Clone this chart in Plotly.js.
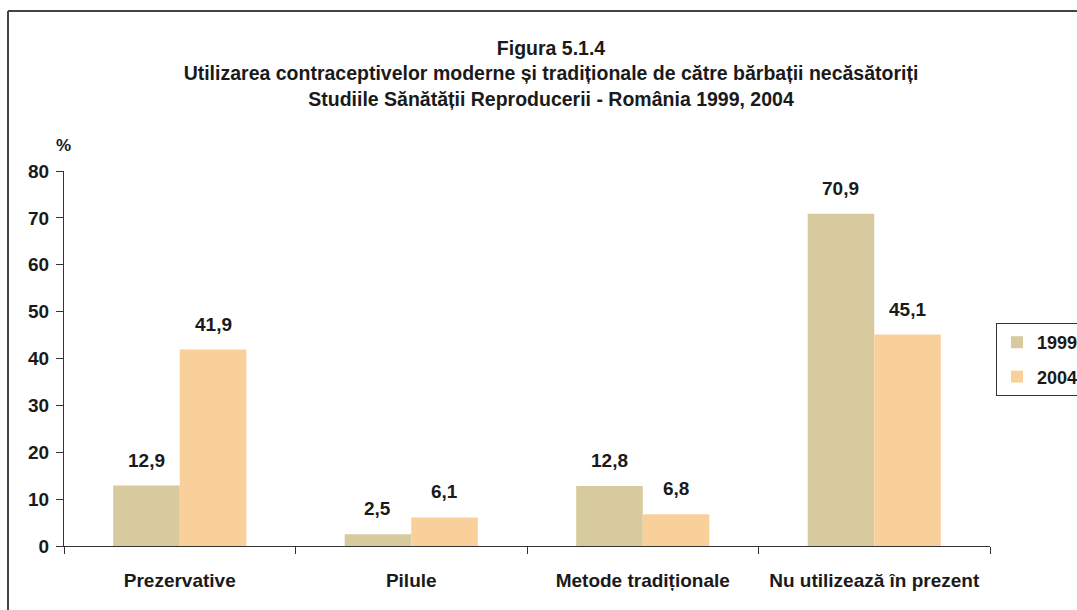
<!DOCTYPE html>
<html>
<head>
<meta charset="utf-8">
<script src="https://cdn.plot.ly/plotly-3.0.1.min.js"></script>
<style>html,body{margin:0;padding:0;background:#fff;}#chart{width:1077px;height:610px;}</style>
</head>
<body>
<div id="chart"></div>
<script>
const categories = ["Prezervative", "Pilule", "Metode tradiționale", "Nu utilizează în prezent"];
const values1999 = [12.9, 2.5, 12.8, 70.9];
const values2004 = [41.9, 6.1, 6.8, 45.1];
const seriesNames = ["1999", "2004"];
const yTicks = [0, 10, 20, 30, 40, 50, 60, 70, 80];

const FONT = "'Liberation Sans Narrow', 'Arial Narrow', 'Liberation Sans', sans-serif";
const textFont = {family: FONT, size: 19, color: "#1a1a1a", weight: "bold"};

const traces = [
  {type: "bar", name: seriesNames[0], x: categories, y: values1999, legendgroup: "a",
   marker: {color: "rgb(214,202,158)"}, hoverinfo: "none"},
  {type: "bar", name: seriesNames[1], x: categories, y: values2004, legendgroup: "b",
   marker: {color: "rgb(250,208,154)"}, hoverinfo: "none"}
];

const PLOT_W = 926;
const barPx = PLOT_W / categories.length * (1 - 0.425) / 2;
const fmt = v => v.toFixed(1).replace(".", ",");
const labelAnns = [];
[values1999, values2004].forEach((vals, s) => {
  vals.forEach((v, i) => {
    labelAnns.push({
      x: categories[i], y: v, xref: "x", yref: "y", text: fmt(v), showarrow: false,
      xanchor: "center", yanchor: "bottom", xshift: (s === 0 ? -1 : 1) * barPx / 2, yshift: 13,
      font: textFont
    });
  });
});

const layout = {
  width: 1077, height: 610,
  margin: {l: 64, r: 87, t: 171, b: 64, pad: 0},
  paper_bgcolor: "#fff", plot_bgcolor: "#fff",
  separators: ",.",
  font: {family: FONT, size: 19, color: "#1a1a1a", weight: "bold"},
  barmode: "group", bargap: 0.425, bargroupgap: 0,
  showlegend: true,
  title: {
    text: "Figura 5.1.4<br>Utilizarea contraceptivelor moderne și tradiționale de către bărbații necăsătoriți<br>Studiile Sănătății Reproducerii - România 1999, 2004",
    font: {family: FONT, size: 19.5, color: "#1a1a1a", weight: "bold"},
    x: 551/1077, xref: "container", xanchor: "center",
    y: 1 - 55/610, yref: "container", yanchor: "top"
  },
  xaxis: {
    type: "category", tickson: "boundaries", ticks: "outside", ticklen: 7, tickcolor: "#333",
    showline: true, linecolor: "#333", linewidth: 1, showgrid: false, zeroline: false,
    tickfont: {family: FONT, size: 19, color: "#1a1a1a", weight: "bold"},
    ticklabelstandoff: 17, fixedrange: true
  },
  yaxis: {
    range: [0, 80], tickvals: yTicks, ticks: "outside", ticklen: 7, tickcolor: "#333",
    showline: true, linecolor: "#333", linewidth: 1, showgrid: false, zeroline: false,
    tickfont: {family: FONT, size: 19, color: "#1a1a1a", weight: "bold"},
    ticklabelstandoff: 3, fixedrange: true
  },
  legend: {
    xref: "container", yref: "container",
    x: 996/1077, xanchor: "left", y: 1 - 323/610, yanchor: "top",
    bordercolor: "#333", borderwidth: 1, bgcolor: "#fff",
    font: {family: FONT, size: 18, color: "#1a1a1a", weight: "bold"},
    traceorder: "grouped", tracegroupgap: 8
  },
  annotations: labelAnns.concat([
    {text: "%", xref: "paper", yref: "paper", x: -0.0005, y: (546-145)/375, xanchor: "center", yanchor: "middle",
     showarrow: false, font: {family: FONT, size: 17, color: "#1a1a1a", weight: "bold"}}
  ]),
  shapes: [
    {type: "line", xref: "paper", yref: "paper",
     x0: (8-64)/926, x1: (8-64)/926, y0: (546-640)/375, y1: (546-11)/375,
     line: {color: "#444", width: 2}},
    {type: "line", xref: "paper", yref: "paper",
     x0: (8-64)/926, x1: (1100-64)/926, y0: (546-11)/375, y1: (546-11)/375,
     line: {color: "#444", width: 2}}
  ]
};

Plotly.newPlot("chart", traces, layout, {displayModeBar: false, staticPlot: true});
</script>
</body>
</html>
